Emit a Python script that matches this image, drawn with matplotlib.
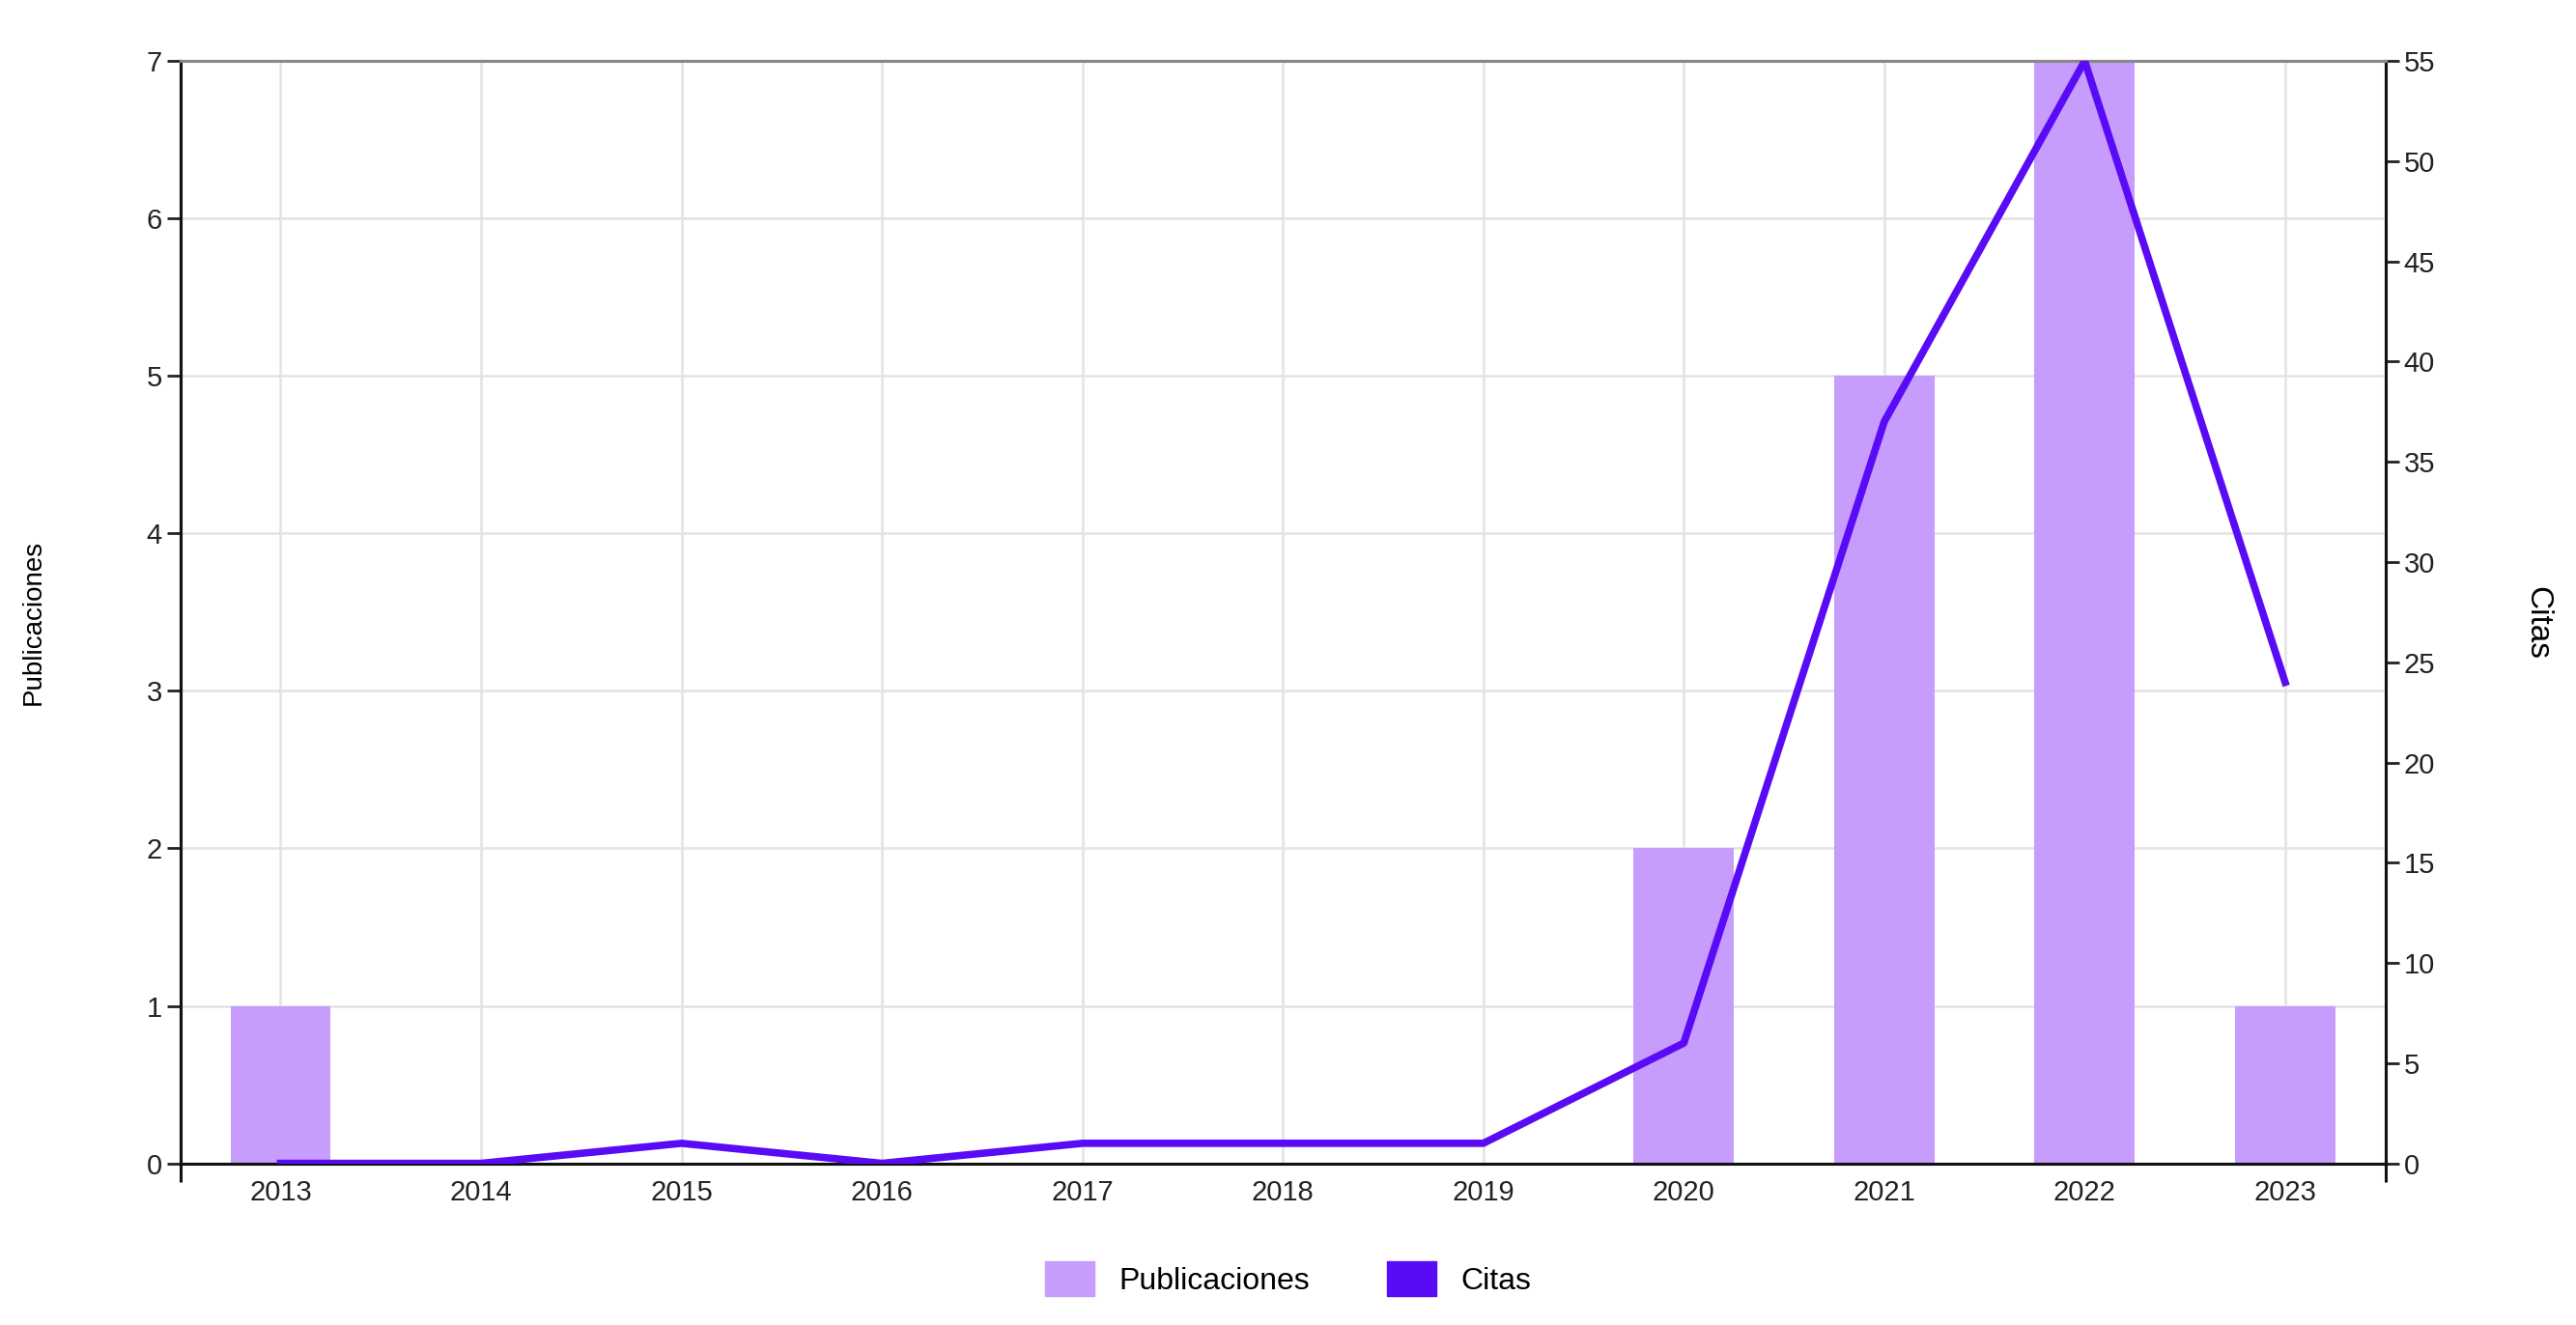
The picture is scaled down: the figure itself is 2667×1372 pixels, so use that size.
import matplotlib

matplotlib.use("Agg")
import matplotlib.pyplot as plt
from matplotlib.patches import Patch

YEARS = ["2013", "2014", "2015", "2016", "2017", "2018", "2019", "2020", "2021", "2022", "2023"]
PUBLICACIONES = [1, 0, 0, 0, 0, 0, 0, 2, 5, 7, 1]
CITAS = [0, 0, 1, 0, 1, 1, 1, 6, 37, 55, 24]

BAR_COLOR = "#C69CFD"
LINE_COLOR = "#5A0BF6"
GRID_COLOR = "#E3E3E3"

plt.rcParams["font.family"] = ["Liberation Sans", "DejaVu Sans"]

fig = plt.figure(figsize=(26.67, 13.72), dpi=100)
ax = fig.add_axes([0.070, 0.122, 0.856, 0.832])
ax2 = ax.twinx()

x = list(range(len(YEARS)))
ax.bar(x, PUBLICACIONES, width=0.5, color=BAR_COLOR, zorder=2)
ax2.plot(x, CITAS, color=LINE_COLOR, linewidth=5.5, zorder=3)

ax.set_xlim(-0.5, len(YEARS) - 0.5)
ax.set_ylim(0, 7)
ax2.set_ylim(0, 55)
ax.set_xticks(x, YEARS)
ax.set_yticks(range(8))
ax2.set_yticks(range(0, 56, 5))

ax.grid(True, color=GRID_COLOR, linewidth=1.8, zorder=0)
ax.set_axisbelow(True)

for a in (ax, ax2):
    a.tick_params(labelsize=21, colors="#222222", length=10, width=2)
    for side in ("left", "right", "bottom"):
        a.spines[side].set_color("#111111")
        a.spines[side].set_linewidth(2.2)
    a.spines["top"].set_color("#888888")
    a.spines["top"].set_linewidth(2.2)
ax.tick_params(axis="x", length=0, pad=12)
ax.set_xticks([-0.5, len(YEARS) - 0.5], minor=True)
ax.tick_params(axis="x", which="minor", length=14, width=2.2, color="#111111")
ax2.set_zorder(ax.get_zorder() + 1)
ax2.patch.set_visible(False)

fig.text(0.013, 0.53, "Publicaciones", rotation=90, ha="center", va="center", fontsize=20)
fig.text(0.985, 0.53, "Citas", rotation=-90, ha="center", va="center", fontsize=24)

handles = [Patch(color=BAR_COLOR, label="Publicaciones"), Patch(color=LINE_COLOR, label="Citas")]
fig.legend(handles=handles, loc="center", bbox_to_anchor=(0.5, 0.035), ncol=2,
           frameon=False, fontsize=23, handlelength=1.6, handleheight=1.4,
           columnspacing=2.5, handletextpad=0.8)

fig.savefig("out.png", dpi=100)
